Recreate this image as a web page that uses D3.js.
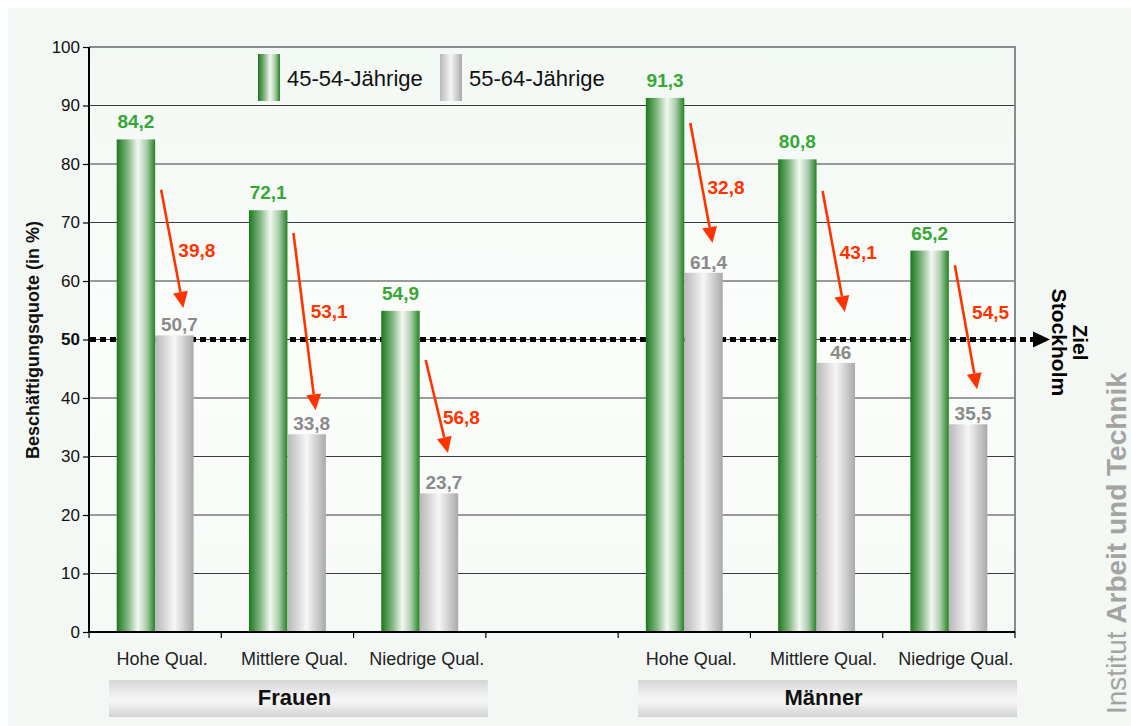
<!DOCTYPE html>
<html>
<head>
<meta charset="utf-8">
<script src="https://cdn.jsdelivr.net/npm/d3@7"></script>
<style>
  body { margin: 0; background: #fff; }
  text { font-family: "Liberation Sans", Arial, sans-serif; }
</style>
</head>
<body>
<svg id="chart" width="1131" height="726"></svg>
<script>
const groups = ['Frauen', 'Männer'];
const qualLevels = ['Hohe Qual.', 'Mittlere Qual.', 'Niedrige Qual.'];
const series = ['45-54-Jährige', '55-64-Jährige'];
const values45 = [84.2, 72.1, 54.9, 91.3, 80.8, 65.2];
const values55 = [50.7, 33.8, 23.7, 61.4, 46.0, 35.5];
const dropLabels = ['39,8', '53,1', '56,8', '32,8', '43,1', '54,5'];
// red arrow anchors (in % units)
const arrowFrom = [75.6, 68.2, 46.5, 87.0, 75.4, 62.7];
const arrowTo = [55.4, 37.9, 30.6, 66.5, 54.7, 41.5];
const arrowLabelAt = [65.3, 54.9, 36.8, 76.1, 65.0, 54.7];
const yTicks = [0, 10, 20, 30, 40, 50, 60, 70, 80, 90, 100];
const target = 50;

const svg = d3.select('#chart');
const margin = { top: 47, left: 89, right: 1015, bottom: 632 };
const fmt = v => String(v).replace('.', ',');

// slots: 3 per group with an empty slot between the groups
const slots = [];
groups.forEach((g, gi) => {
  if (gi > 0) slots.push('gap' + gi);
  qualLevels.forEach(q => slots.push(g + '|' + q));
});
const rows = [];
groups.forEach((g, gi) => qualLevels.forEach((q, qi) => {
  const i = gi * qualLevels.length + qi;
  rows.push({ key: g + '|' + q, group: g, qual: q, v45: values45[i], v55: values55[i], drop: dropLabels[i],
    from: arrowFrom[i], to: arrowTo[i], labelAt: arrowLabelAt[i] });
}));

const x0 = d3.scaleBand().domain(slots).range([margin.left, margin.right]);
const bw = x0.bandwidth();
const x1 = d3.scaleBand().domain(series).range([0, bw]).paddingOuter(0.72);
const y = d3.scaleLinear().domain([0, 100]).range([margin.bottom, margin.top]);

// gradients
const defs = svg.append('defs');
function hGrad(id, stops) {
  const lg = defs.append('linearGradient').attr('id', id).attr('x1', 0).attr('x2', 1).attr('y1', 0).attr('y2', 0);
  stops.forEach(s => lg.append('stop').attr('offset', s[0]).attr('stop-color', s[1]));
}
hGrad('gGreen', [[0, '#1c781c'], [0.3, '#86b986'], [0.55, '#f4f8f4'], [0.78, '#a9cca9'], [1, '#238223']]);
hGrad('gGray', [[0, '#b8b8b8'], [0.5, '#f6f6f6'], [1, '#a9a9a9']]);
const vg = defs.append('linearGradient').attr('id', 'gBox').attr('x1', 0).attr('x2', 0).attr('y1', 0).attr('y2', 1);
[[0, '#d6d6d6'], [0.55, '#f8f8f8'], [1, '#d2d2d2']].forEach(s => vg.append('stop').attr('offset', s[0]).attr('stop-color', s[1]));
const pg = defs.append('linearGradient').attr('id', 'gPlot').attr('x1', 0).attr('x2', 0).attr('y1', 0).attr('y2', 1);
[[0, '#f2f8f3'], [0.5, '#fbfdfb'], [1, '#f6faf6']].forEach(s => pg.append('stop').attr('offset', s[0]).attr('stop-color', s[1]));
const fillOf = s => s === series[0] ? 'url(#gGreen)' : 'url(#gGray)';

// background
svg.append('rect').attr('x', 8).attr('y', 8).attr('width', 1123).attr('height', 718).attr('fill', '#f3f8f4');
svg.append('rect').attr('x', margin.left).attr('y', margin.top)
  .attr('width', margin.right - margin.left).attr('height', margin.bottom - margin.top).attr('fill', 'url(#gPlot)');

// gridlines
svg.append('g').selectAll('line').data(yTicks.filter(t => t > 0 && t < 100)).join('line')
  .attr('x1', margin.left).attr('x2', margin.right)
  .attr('y1', d => y(d)).attr('y2', d => y(d))
  .attr('stroke', '#3a3a3a').attr('stroke-width', 1.2);

// top and right frame
svg.append('path')
  .attr('d', `M${margin.left},${y(100)}H${margin.right}V${margin.bottom}`)
  .attr('fill', 'none').attr('stroke', '#8a8a8a').attr('stroke-width', 2);

// target line (Ziel Stockholm)
svg.append('line')
  .attr('x1', margin.left + 1).attr('x2', 1034)
  .attr('y1', y(target)).attr('y2', y(target))
  .attr('stroke', '#000').attr('stroke-width', 5).attr('stroke-dasharray', '6,4');
svg.append('path')
  .attr('d', `M1033,${y(target) - 8}L1050,${y(target)}L1033,${y(target) + 8}Z`)
  .attr('fill', '#000');

// bars
const slotG = svg.append('g').selectAll('g').data(rows).join('g')
  .attr('transform', d => `translate(${x0(d.key)},0)`);
slotG.selectAll('rect').data(d => [{ s: series[0], v: d.v45 }, { s: series[1], v: d.v55 }]).join('rect')
  .attr('x', d => x1(d.s)).attr('width', x1.bandwidth())
  .attr('y', d => y(d.v)).attr('height', d => y(0) - y(d.v))
  .attr('fill', d => fillOf(d.s));

// value labels
slotG.append('text')
  .attr('x', x1(series[0]) + x1.bandwidth() / 2).attr('y', d => y(d.v45) - 11)
  .attr('text-anchor', 'middle').attr('font-size', 19).attr('font-weight', 'bold').attr('fill', '#35a835')
  .text(d => fmt(d.v45));
slotG.append('text')
  .attr('x', x1(series[1]) + x1.bandwidth() / 2 + 5).attr('y', d => y(d.v55) - 4)
  .attr('text-anchor', 'middle').attr('font-size', 19).attr('font-weight', 'bold').attr('fill', '#8a8a8a')
  .text(d => fmt(d.v55));

// red drop arrows
const red = '#ff3300';
slotG.each(function(d) {
  const g = d3.select(this);
  const xs = x1(series[0]) + x1.bandwidth() + 6;
  const xe = x1(series[1]) + x1.bandwidth() / 2 + 9;
  const ys = y(d.from), ye = y(d.to);
  const ang = Math.atan2(ye - ys, xe - xs);
  const hl = 16, hw = 7.5;
  const bx = xe - hl * Math.cos(ang), by = ye - hl * Math.sin(ang);
  const px = -Math.sin(ang) * hw, py = Math.cos(ang) * hw;
  g.append('line').attr('x1', xs).attr('y1', ys).attr('x2', bx).attr('y2', by)
    .attr('stroke', red).attr('stroke-width', 2.6);
  g.append('path').attr('d', `M${xe},${ye}L${bx + px},${by + py}L${bx - px},${by - py}Z`).attr('fill', red);
  g.append('text').attr('x', x1(series[1]) + x1.bandwidth() / 2 + 4).attr('y', y(d.labelAt))
    .attr('dy', '0.36em').attr('font-size', 19).attr('font-weight', 'bold').attr('fill', red)
    .text(d.drop);
});

// y axis
const yAxis = svg.append('g').attr('transform', `translate(${margin.left},0)`)
  .call(d3.axisLeft(y).tickValues(yTicks).tickSize(6).tickPadding(3));
yAxis.select('.domain').remove();
yAxis.selectAll('.tick line').attr('stroke', '#000').attr('stroke-width', 1.2);
yAxis.selectAll('.tick text').attr('font-size', 17).attr('fill', '#111')
  .attr('font-family', '"Liberation Sans", Arial, sans-serif')
  .attr('font-weight', d => d === target ? 'bold' : 'normal');
svg.append('line').attr('x1', margin.left).attr('x2', margin.left)
  .attr('y1', margin.top).attr('y2', margin.bottom).attr('stroke', '#000').attr('stroke-width', 2);

// x axis with ticks at slot boundaries
svg.append('line').attr('x1', margin.left).attr('x2', margin.right)
  .attr('y1', margin.bottom).attr('y2', margin.bottom).attr('stroke', '#000').attr('stroke-width', 2);
svg.append('g').selectAll('line').data(slots.map(s => x0(s)).concat([margin.right])).join('line')
  .attr('x1', d => d).attr('x2', d => d)
  .attr('y1', margin.bottom).attr('y2', margin.bottom + 6)
  .attr('stroke', '#000').attr('stroke-width', 1.2);
svg.append('g').selectAll('text').data(rows).join('text')
  .attr('x', d => x0(d.key) + bw / 2 + 7).attr('y', 665)
  .attr('text-anchor', 'middle').attr('font-size', 18).attr('fill', '#222')
  .text(d => d.qual);

// group boxes
groups.forEach(g => {
  const keys = rows.filter(r => r.group === g).map(r => r.key);
  const xa = x0(keys[0]) + 20, xb = x0(keys[keys.length - 1]) + bw + 2;
  svg.append('rect').attr('x', xa).attr('y', 680).attr('width', xb - xa).attr('height', 37).attr('fill', 'url(#gBox)');
  svg.append('text').attr('x', (xa + xb) / 2 - 4).attr('y', 705)
    .attr('text-anchor', 'middle').attr('font-size', 22).attr('font-weight', 'bold').attr('fill', '#111')
    .text(g);
});

// legend
const legend = svg.append('g').selectAll('g').data(series).join('g')
  .attr('transform', (d, i) => `translate(${258 + i * 182},54)`);
legend.append('rect').attr('width', 22).attr('height', 47).attr('fill', d => fillOf(d));
legend.append('text').attr('x', 29).attr('y', 32).attr('font-size', 22).attr('fill', '#111').text(d => d);

// y axis title
svg.append('text').attr('transform', 'translate(39,340) rotate(-90)')
  .attr('text-anchor', 'middle').attr('font-size', 18).attr('font-weight', 'bold').attr('fill', '#111')
  .text('Beschäftigungsquote (in %)');

// Ziel Stockholm
const ziel = svg.append('text').attr('transform', `translate(1052,${y(target) + 3}) rotate(90)`)
  .attr('text-anchor', 'middle').attr('font-size', 21).attr('font-weight', 'bold').attr('fill', '#000');
ziel.append('tspan').attr('x', 0).attr('y', -21).text('Ziel');
ziel.append('tspan').attr('x', 0).attr('y', 0).text('Stockholm');

// institute mark
const inst = svg.append('text').attr('transform', 'translate(1126,714) rotate(-90)')
  .attr('font-size', 28).attr('fill', '#a3a3a3');
inst.append('tspan').text('Institut ');
inst.append('tspan').attr('font-weight', 'bold').text('Arbeit und Technik');
</script>
</body>
</html>
